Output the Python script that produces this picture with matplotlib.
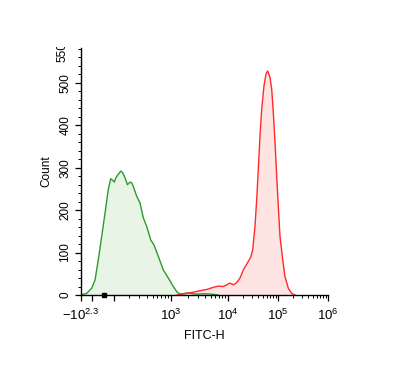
import numpy as np
import matplotlib
matplotlib.use("Agg")
import matplotlib.pyplot as plt
from matplotlib.transforms import Bbox, TransformedBbox, blended_transform_factory, offset_copy

plt.rcParams['font.family'] = ['Liberation Sans', 'DejaVu Sans']
plt.rcParams['mathtext.fontset'] = 'custom'
plt.rcParams['mathtext.rm'] = 'Liberation Sans'
plt.rcParams['mathtext.it'] = 'Liberation Sans:italic'
plt.rcParams['mathtext.default'] = 'regular'

# ---- data (FITC-H value, count) ----
green_x = [-189, -142, -102, -71, -43, -17, 9, 39, 63, 80, 102, 110, 123, 140, 152,
           168, 186, 208, 223, 237, 271, 309, 351, 400, 466, 528, 622, 750, 904,
           1097, 1259, 1438, 1986, 2746, 3948, 5240, 6680]
green_y = [1, 4, 16, 35, 83, 138, 193, 249, 274, 271, 266, 276, 284, 292, 288,
           276, 260, 266, 264, 256, 233, 217, 182, 162, 130, 118, 91, 59, 40,
           20, 8, 2, 5, 2, 3, 2, 0]

red_x = [1274, 2154, 3228, 4230, 5520, 6760, 8280, 9490, 10960, 12760, 14930,
         17380, 20230, 24320, 28440, 31190, 34670, 37500, 40360, 43650, 47210,
         52480, 57540, 62230, 69180, 74820, 80540, 87100, 94190, 101400, 109600,
         124200, 138000, 160700, 187800, 218800]
red_y = [0, 5, 10, 13, 18, 21, 20, 24, 28, 24, 29, 40, 59, 75, 89, 106, 162, 225,
         296, 375, 438, 493, 521, 528, 513, 485, 430, 359, 280, 209, 138, 83, 43,
         16, 4, 0]

x_tick_vals = [-10**2.3, 1e3, 1e4, 1e5, 1e6]
x_tick_labels = [r'$-10^{2.3}$', r'$10^{3}$', r'$10^{4}$', r'$10^{5}$', r'$10^{6}$']
y_tick_vals = [0, 100, 200, 300, 400, 500]
y_top_label = '550'

# ---- logicle-like display scale (anchor values -> relative display units) ----
anchor_vals = np.array([-200, -100, 0, 100, 1e3, 1e4, 1e5, 1e6])
anchor_disp = np.array([0, 11, 23, 33, 90, 147, 197, 247], dtype=float)
anchor_u = np.arcsinh(anchor_vals / 100.0)

def fwd(x):
    x = np.asarray(x, dtype=float)
    return np.interp(np.arcsinh(x / 100.0), anchor_u, anchor_disp)

def inv(p):
    p = np.asarray(p, dtype=float)
    return 100.0 * np.sinh(np.interp(p, anchor_disp, anchor_u))

fig = plt.figure(figsize=(3.96, 3.84), dpi=100)
ax = fig.add_axes([81/396, 1 - 295/384, 247/396, 247/384])
ax.set_xscale('function', functions=(fwd, inv))

ax.fill_between(green_x, green_y, color='#e8f4e6', lw=0)
ax.plot(green_x, green_y, color='#2e9a2e', lw=1.0)
ax.fill_between(red_x, red_y, color='#ffe4e4', lw=0)
ax.plot(red_x, red_y, color='#ff2a2a', lw=1.0)

ax.set_xlim(-200, 1e6)
ax.set_ylim(0, 582)

for s in ['top', 'right']:
    ax.spines[s].set_visible(False)
for s in ['left', 'bottom']:
    ax.spines[s].set_linewidth(1.0)

# x ticks
ax.set_xticks(x_tick_vals + [-100, 100])
ax.set_xticklabels(x_tick_labels + ['', ''], fontsize=9.5)
minor_x = []
for dec in [100, 1e3, 1e4, 1e5]:
    minor_x += [k * dec for k in range(2, 10)]
ax.set_xticks(minor_x, minor=True)
ax.tick_params(axis='x', which='major', direction='out', length=4, width=0.9, pad=5)
ax.tick_params(axis='x', which='minor', direction='out', length=2.5, width=0.7)
ax.plot([0], [0], marker='s', ms=3.5, color='black', clip_on=False,
        transform=blended_transform_factory(ax.transData, ax.transAxes))

# y ticks
ax.set_yticks(y_tick_vals)
ax.set_yticklabels([str(v) for v in y_tick_vals], fontsize=8.5, rotation=90, va='center')
ax.set_yticks(np.arange(0, 581, 20), minor=True)
ax.tick_params(axis='y', which='major', direction='out', length=4, width=0.9, pad=3)
ax.tick_params(axis='y', which='minor', direction='out', length=2, width=0.7)

# clipped top label (as in the reference, cut by the plot area's top)
tr = offset_copy(ax.transAxes, fig=fig, x=-13, y=-3, units='points')
t = ax.text(0, 1, y_top_label, transform=tr, rotation=90, ha='center', va='center',
            fontsize=8.5, clip_on=True)
t.set_clip_box(TransformedBbox(Bbox([[-1, -1], [1, 1.003]]), ax.transAxes))

ax.set_xlabel('FITC-H', fontsize=9, labelpad=5)
ax.set_ylabel('Count', fontsize=8.5, labelpad=5)

fig.savefig('out.png', dpi=100)
